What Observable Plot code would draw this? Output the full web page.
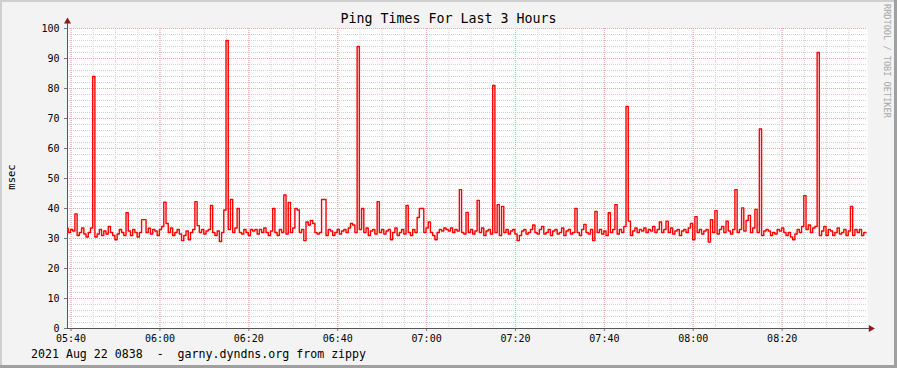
<!DOCTYPE html>
<html>
<head>
<meta charset="utf-8">
<script src="https://cdn.jsdelivr.net/npm/d3@7"></script>
<script src="https://cdn.jsdelivr.net/npm/@observablehq/plot@0.6"></script>
<style>
  html, body { margin: 0; padding: 0; background: #f3f3f3; }
  #wrap { position: relative; width: 897px; height: 368px; overflow: hidden; background: #f3f3f3; font-family: "DejaVu Sans Mono", monospace; }
  #wrap svg { position: absolute; left: 0; top: 0; }
  .edge { position: absolute; z-index: 5; }
  .txt { position: absolute; z-index: 4; white-space: pre; color: #000; }
</style>
</head>
<body>
<div id="wrap">
  <div class="edge" style="left:0;top:0;width:897px;height:2px;background:#cfcfcf"></div>
  <div class="edge" style="left:0;top:0;width:2px;height:368px;background:#cfcfcf"></div>
  <div class="edge" style="left:0;bottom:0;width:897px;height:3px;background:#a0a0a0"></div>
  <div class="edge" style="right:0;top:0;width:3px;height:368px;background:#a0a0a0"></div>
  <div id="title" class="txt" style="left:0;width:897px;top:11px;text-align:center;font-size:13.3px;">Ping Times For Last 3 Hours</div>
  <div id="ylab" class="txt" style="left:-3px;top:171px;font-size:10.5px;transform:rotate(-90deg);transform-origin:center;width:28px;text-align:center;">msec</div>
  <div id="credit" class="txt" style="left:882px;top:4px;font-size:8.6px;color:#a8a8a8;writing-mode:vertical-rl;">RRDTOOL / TOBI OETIKER</div>
  <div id="foot" class="txt" style="left:31px;top:347px;font-size:11.6px;">2021 Aug 22 0838  -  garny.dyndns.org from zippy</div>
</div>
<script>
// Ping round-trip times (msec), one sample every 30 s, starting 05:38:52
const startTime = "2021-08-22T05:39:12Z";
const endTime = "2021-08-22T08:39:12Z";
const firstSample = "2021-08-22T05:38:52Z";
const stepSeconds = 30;
const pingMsec = [
  33.4, 32, 33, 32.5, 38.2, 31, 32, 33.5, 31.5, 30.5, 32, 33.5, 84, 30.5, 31.5, 33, 31, 32.5, 31.5, 34,
  32, 31, 29.6, 31.5, 33, 32, 31, 38.6, 32.5, 31, 33, 32, 30.5, 32, 36.3, 36.3, 32, 33.4, 31.5, 33,
  32.5, 31, 33, 34, 42.1, 35, 32, 33.5, 31, 32, 33, 31.5, 29.3, 31, 32.5, 29.6, 32, 33, 42.3, 34.3,
  32, 33, 31.5, 32.5, 33, 41, 32, 31, 32.5, 29, 32, 39.5, 96, 33, 43, 32, 33.5, 40, 32, 31.5,
  33, 32, 31, 33, 32.5, 33, 31.5, 33, 32, 33.5, 32, 31, 32.5, 40, 32, 31, 33, 32, 44.5, 31.5,
  42, 32, 33.5, 40, 39.5, 32, 33, 29.3, 35.5, 34.5, 36, 35, 32, 31.5, 32, 43, 43, 31, 33, 32.5,
  31, 32, 33, 31.5, 32.5, 33, 32, 33.5, 35, 34.5, 32, 94, 33, 40, 32, 33.5, 31, 32.5, 33, 31.5,
  42.3, 32, 33, 31.5, 32.5, 33, 29.6, 32, 33.5, 31, 32, 33, 31.5, 41, 32, 31, 33, 32, 37, 40,
  40, 32, 33.5, 35.5, 32, 31, 29.6, 32, 33, 32.5, 33.5, 33, 32.5, 33.5, 32, 33, 32.5, 46.3, 32, 31.5,
  38.7, 32, 33, 31.5, 32.5, 42.7, 32, 33.5, 31, 32.5, 33, 31.5, 81, 32, 41.3, 31, 40.7, 32, 33, 31.5,
  32.5, 33, 31.5, 29.3, 31, 32.5, 33, 31.5, 32, 33, 34.5, 32, 31.5, 33, 34, 31.5, 32, 33, 31, 32.5,
  33, 31.5, 32, 33.5, 31, 32.5, 33, 31.5, 32, 40, 32, 31, 33, 34.7, 32, 31.5, 33, 29.3, 39, 32,
  33, 31.5, 32.5, 31, 38.6, 32, 33, 41.3, 31.5, 33, 32, 34, 74, 35.8, 31, 32.5, 33.5, 32, 33, 32.5,
  33.5, 32, 33, 32.5, 34, 32, 33, 35.5, 32, 33, 35.8, 32, 33.5, 31.5, 32.5, 33, 31, 32.5, 33, 32,
  33.5, 35, 29.6, 37.3, 32, 33, 31.5, 32.5, 33, 28.8, 36.3, 32, 39.3, 31.5, 33, 34, 32, 35.8, 32.5, 31.5,
  33, 46.3, 32, 33, 40.2, 32.5, 36, 37.7, 32, 33.5, 39.7, 32, 66.5, 31, 32.5, 33, 32.5, 31, 32, 31.5,
  33, 32.5, 33.5, 32, 31, 32, 30.5, 29.6, 31.5, 33, 32, 34, 44.3, 33, 34.5, 32, 33.5, 34, 92, 31,
  32.5, 34, 31, 33, 32.5, 31, 32, 33.5, 31.5, 32, 33, 31, 32.5, 40.7, 31, 33, 32, 33, 31, 32, 32
];
const yTicks = [0, 10, 20, 30, 40, 50, 60, 70, 80, 90, 100];

const t0 = new Date(startTime);
const t1 = new Date(endTime);
const ts = new Date(firstSample);
const data = pingMsec.map((v, i) => ({ t: new Date(+ts + i * stepSeconds * 1000), v }));

const minorX = d3.utcMinute.every(5).range(t0, t1);
const majorX = d3.utcMinute.every(20).range(t0, t1);
const minorY = d3.range(0, 101, 2);
const xArrowEnd = new Date(+t1 + 45 * 1000);

const chart = Plot.plot({
  width: 897,
  height: 368,
  marginLeft: 67,
  marginRight: 30,
  marginTop: 28,
  marginBottom: 40,
  style: { background: "transparent", fontFamily: "DejaVu Sans Mono, monospace", fontSize: "10px", color: "#000" },
  x: { type: "utc", domain: [t0, t1] },
  y: { domain: [0, 100] },
  marks: [
    Plot.frame({ fill: "white", stroke: "none" }),
    Plot.ruleX(minorX, { stroke: "#d2d2d2", strokeDasharray: "1,1" }),
    Plot.ruleY(minorY, { stroke: "#d2d2d2", strokeDasharray: "1,1" }),
    Plot.ruleX(majorX, { stroke: "#f4a3a3", strokeDasharray: "1,1" }),
    Plot.ruleY(yTicks, { stroke: "#f4a3a3", strokeDasharray: "1,1" }),
    Plot.axisY({ ticks: yTicks, tickSize: 3, tickPadding: 5, stroke: "#777", fill: "#000", label: null, fontSize: 10 }),
    Plot.axisX({ ticks: majorX, tickFormat: d3.utcFormat("%H:%M"), tickSize: 3, tickPadding: 3, stroke: "#777", fill: "#000", label: null, fontSize: 10 }),
    Plot.line(data, { x: "t", y: "v", curve: "step-after", stroke: "#ff0000", strokeWidth: 1.4, clip: true }),
    Plot.ruleX([t0], { y1: 0, y2: 102, stroke: "#555", strokeWidth: 1 }),
    Plot.ruleY([0], { x1: t0, x2: xArrowEnd, stroke: "#555", strokeWidth: 1 }),
    Plot.dot([{ x: t0, y: 102.3 }], { x: "x", y: "y", symbol: "triangle", r: 2.6, fill: "#8b1c1c", stroke: "none" }),
    Plot.dot([{ x: xArrowEnd, y: 0 }], { x: "x", y: "y", symbol: "triangle", rotate: 90, r: 2.6, fill: "#8b1c1c", stroke: "none" })
  ]
});
document.getElementById("wrap").appendChild(chart);
</script>
</body>
</html>
